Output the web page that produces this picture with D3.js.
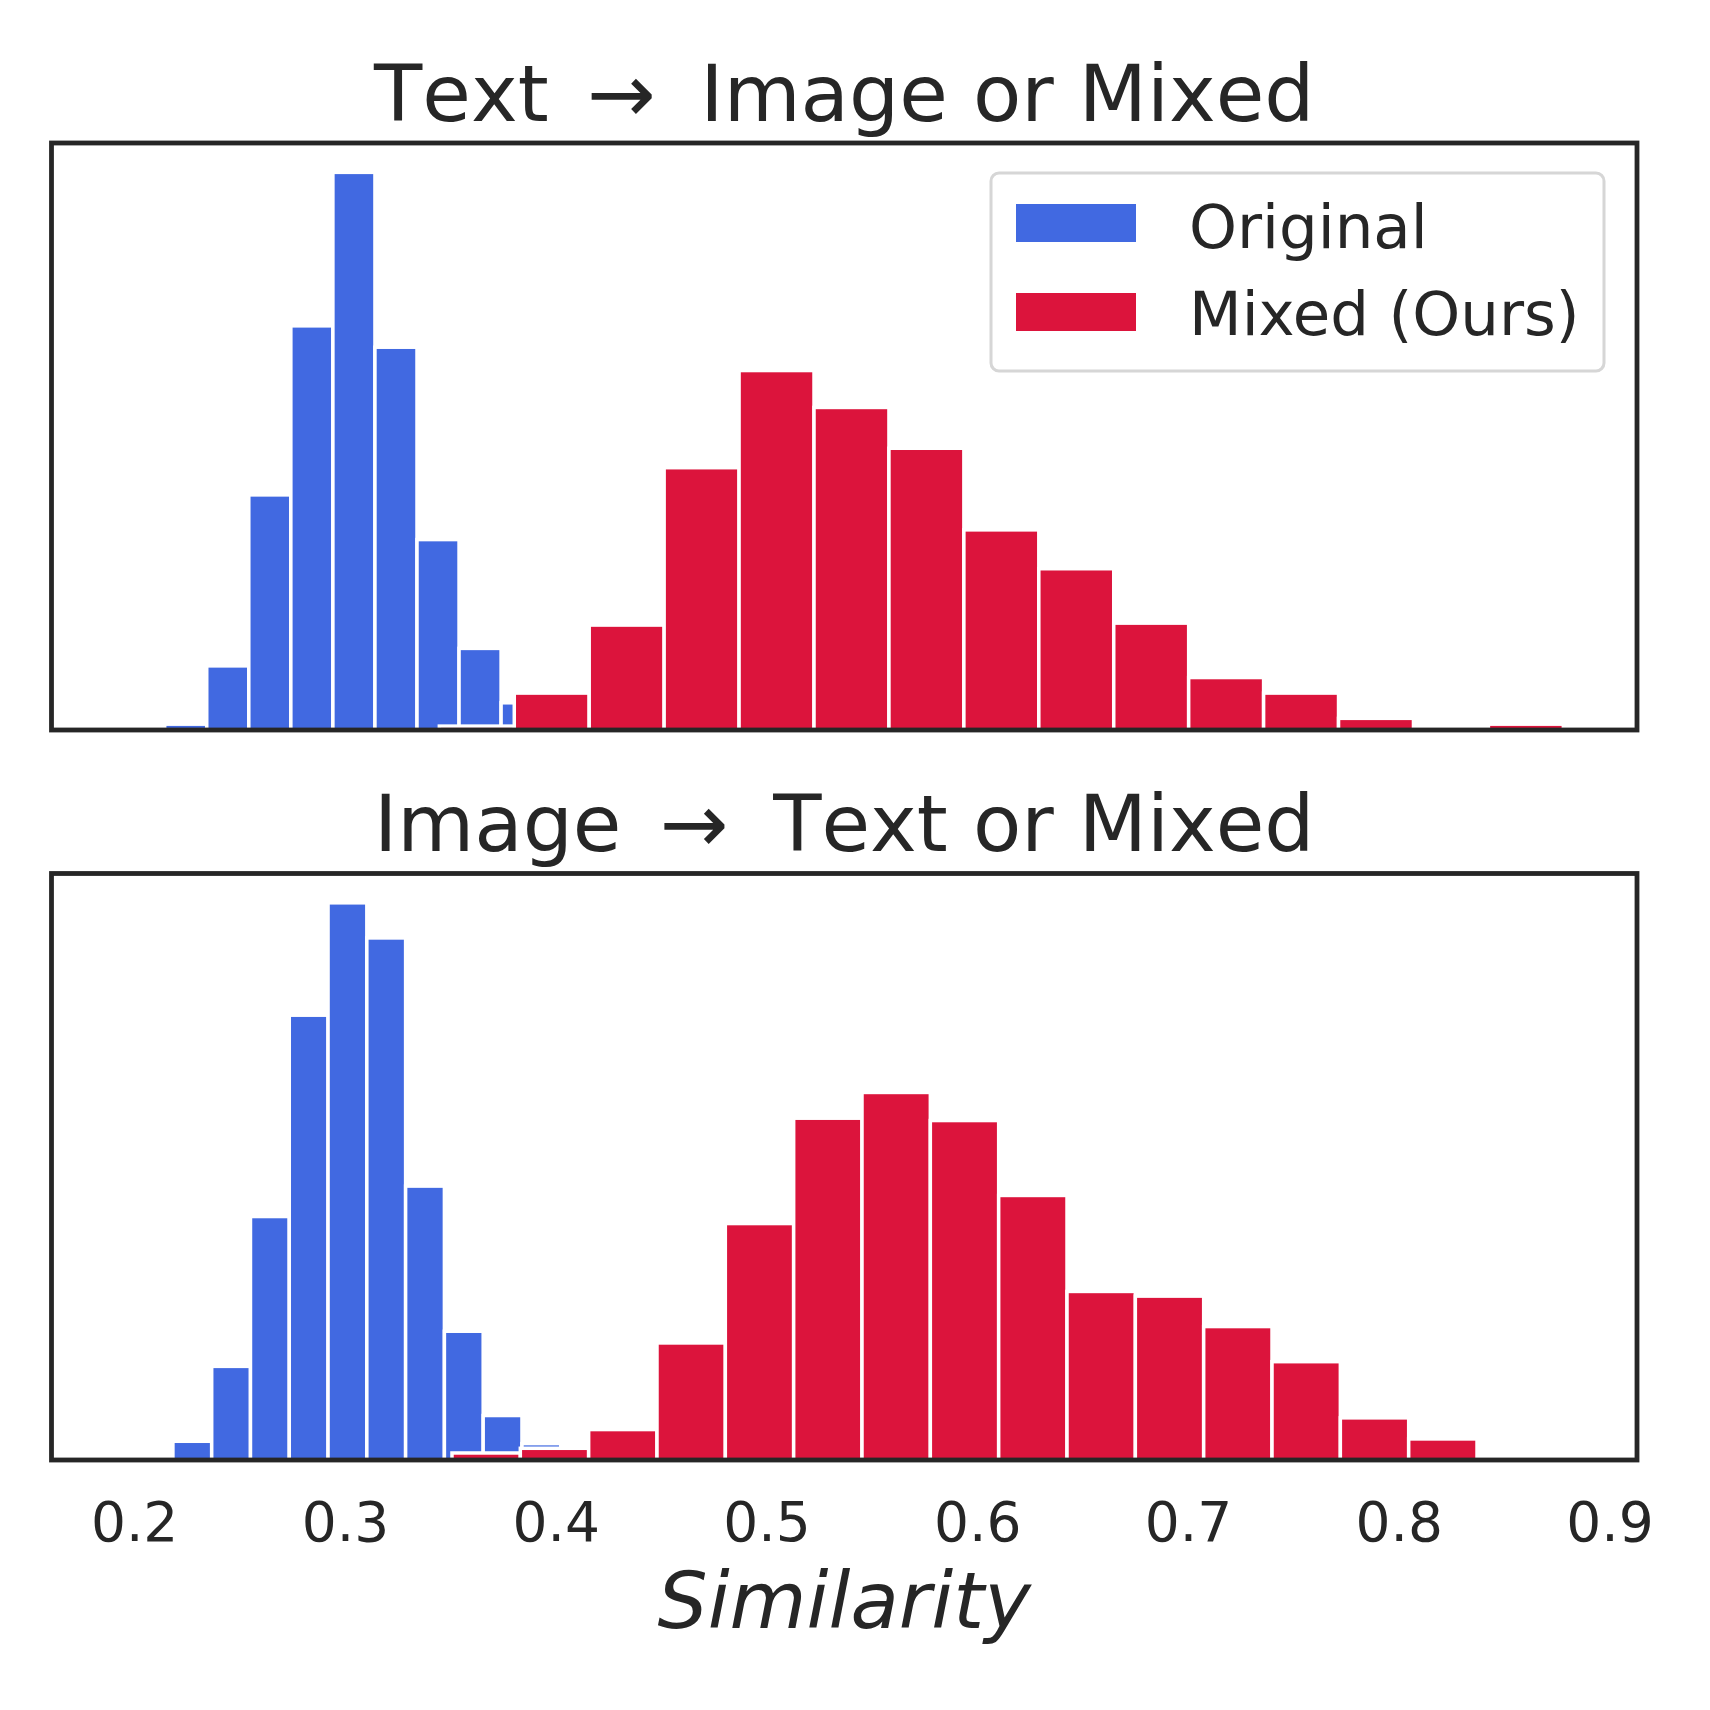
<!DOCTYPE html>
<head>
<meta charset="utf-8">
<title>Similarity histograms</title>
<style>
html, body { margin:0; padding:0; background-color: #ffffff; }
svg { display:block; }
text { font-family: 'DejaVu Sans', sans-serif; fill: #262626; }
.title { font-kerning: none; }
</style>
</head>
<body>
<svg id="stage" width="1710" height="1710"></svg>

<script src="https://d3js.org/d3.v7.min.js"></script>
<script>

// histogram bins: first edge and width of each bin (similarity units)
var topBlueStart = 0.2145, topBlueWidth = 0.01995;
var topRedStart = 0.3448, topRedWidth = 0.03555;
var botBlueStart = 0.2184, botBlueWidth = 0.0184;
var botRedStart = 0.3508, botRedWidth = 0.03242;

// counts per bin (about 1000 samples each)
var topBlue = [3, 33, 121, 208, 287, 197, 98, 42, 14];
var topRed = [2, 19, 54, 135, 185, 166, 145, 103, 83, 55, 27, 19, 6, 0, 3];
var botBlue = [8, 40, 104, 190, 238, 223, 117, 55, 19, 7];
var botRed = [3, 5, 13, 50, 101, 146, 157, 145, 113, 72, 70, 57, 42, 18, 9];

// titles: [left word, right words]
var titles = [["Text", "Image or Mixed"], ["Image", "Text or Mixed"]];
var seriesNames = ["Original", "Mixed (Ours)"];
var tickValues = [0.2, 0.3, 0.4, 0.5, 0.6, 0.7, 0.8, 0.9];
var xLabel = "Similarity";

var blue = "#4169e1", red = "#dc143c", ink = "#262626";

var svg = d3.select("#stage");

var left = 51.5, right = 1637;
var panels = [
  { top: 143, bottom: 730, title: titles[0], blue: topBlue, red: topRed,
    bs: topBlueStart, bw: topBlueWidth, rs: topRedStart, rw: topRedWidth, titleY: 121 },
  { top: 873.5, bottom: 1460, title: titles[1], blue: botBlue, red: botRed,
    bs: botBlueStart, bw: botBlueWidth, rs: botRedStart, rw: botRedWidth, titleY: 851 }
];

var x = d3.scaleLinear()
    .domain([0.1608, 0.913])
    .range([left, right]);

function toBins(counts, start, width) {
  return counts.map(function(c, i) {
    return { x0: start + i * width, x1: start + (i + 1) * width, n: c };
  });
}

panels.forEach(function(p, pi) {
  var ymax = d3.max(p.blue.concat(p.red)) / 0.95;
  var y = d3.scaleLinear().domain([0, ymax]).range([p.bottom, p.top]);

  var g = svg.append("g");

  [[toBins(p.blue, p.bs, p.bw), blue], [toBins(p.red, p.rs, p.rw), red]].forEach(function(s) {
    g.append("g").selectAll("rect")
      .data(s[0].filter(function(d) { return d.n > 0; }))
      .enter().append("rect")
        .attr("x", function(d) { return x(d.x0); })
        .attr("width", function(d) { return x(d.x1) - x(d.x0); })
        .attr("y", function(d) { return y(d.n); })
        .attr("height", function(d) { return y(0) - y(d.n); })
        .attr("fill", s[1])
        .attr("stroke", "#ffffff")
        .attr("stroke-width", 3.5);
  });

  // frame
  g.append("rect")
    .attr("x", left).attr("y", p.top)
    .attr("width", right - left).attr("height", p.bottom - p.top)
    .attr("fill", "none")
    .attr("stroke", ink)
    .attr("stroke-width", 4.8);

  // title: word, arrow, words, spaced like the original
  var t = g.append("text")
    .attr("class", "title")
    .attr("x", (left + right) / 2)
    .attr("y", p.titleY)
    .attr("text-anchor", "middle")
    .style("font-size", "79px");
  t.append("tspan").text(p.title[0]);
  t.append("tspan").style("font-size", "82px").attr("dx", 38).attr("dy", 1).text("\u2192");
  t.append("tspan").attr("dx", 45).attr("dy", -1).text(p.title[1]);

  if (pi == 1) {
    var axis = d3.axisBottom(x)
      .tickValues(tickValues)
      .tickSize(0)
      .tickPadding(0)
      .tickFormat(d3.format(".1f"));
    var ax = g.append("g")
      .attr("transform", "translate(0," + p.bottom + ")")
      .call(axis);
    ax.select(".domain").remove();
    ax.selectAll("text")
      .attr("dy", null)
      .attr("y", 1541 - p.bottom)
      .attr("fill", ink)
      .style("font-size", "55px")
      .style("font-family", "'DejaVu Sans', sans-serif");

    g.append("text")
      .attr("x", (left + right) / 2)
      .attr("y", 1628)
      .attr("text-anchor", "middle")
      .style("font-size", "79px")
      .style("font-style", "italic")
      .text(xLabel);
  }
});

// legend in the top panel
var leg = svg.append("g");
leg.append("rect")
  .attr("x", 991).attr("y", 173)
  .attr("width", 613).attr("height", 198)
  .attr("rx", 8).attr("ry", 8)
  .attr("fill", "#ffffff").attr("fill-opacity", 0.8)
  .attr("stroke", "#d6d6d6").attr("stroke-width", 3);

[blue, red].forEach(function(c, i) {
  leg.append("rect")
    .attr("x", 1016).attr("y", 204 + i * 89)
    .attr("width", 120).attr("height", 38)
    .attr("fill", c);
  leg.append("text")
    .attr("x", 1189).attr("y", 248 + i * 87)
    .style("font-size", "61px")
    .text(seriesNames[i]);
});

</script>
</body>
